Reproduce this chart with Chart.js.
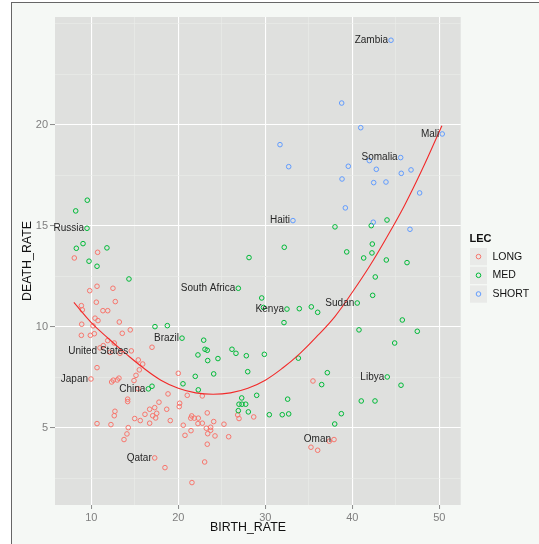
<!DOCTYPE html>
<html>
<head>
<meta charset="utf-8">
<script src="https://cdn.jsdelivr.net/npm/chart.js@4.4.1/dist/chart.umd.min.js"></script>
<style>
html, body { margin:0; padding:0; background:#fff; overflow:hidden; }
#moldura { position:absolute; left:11px; top:2px; width:600px; height:600px; border:1px solid #666; background:#f5f8f5; }
#grafico { position:absolute; left:0; top:0; }
</style>
</head>
<body>
<div id="moldura"></div>
<canvas id="grafico" width="539" height="544"></canvas>
<script>
// valores (BIRTH_RATE x DEATH_RATE)
var longBirth = [10.73, 8.05, 10.66, 9.82, 12.49, 8.86, 8.97, 10.58, 11.34, 11.89, 12.76, 10.43, 10.77, 13.22, 8.90, 10.20,
  14.48, 13.56, 8.86, 9.89, 10.35, 11.89, 11.38, 12.64, 11.00, 16.98, 14.60, 12.15, 13.30, 15.40, 15.91, 10.66, 15.52,
  15.14, 14.91, 13.18, 12.99, 12.34, 12.53, 9.97, 15.37, 20.00, 18.82, 20.16, 20.11, 21.03, 22.76, 17.78, 14.18, 14.18,
  12.72, 12.64, 16.71, 17.29, 16.17, 17.06, 17.52, 17.40, 18.67, 14.99, 15.63, 19.08, 16.71, 10.66, 12.26, 14.25, 14.10,
  13.76, 17.29, 18.47, 20.57, 20.77, 23.33, 21.54, 21.43, 21.84, 22.30, 22.26, 22.76, 21.46, 24.07, 25.25, 23.22, 23.72,
  23.72, 23.38, 24.22, 25.79, 23.33, 23.03, 21.57, 26.83, 26.98, 28.67, 35.48, 37.90, 37.36, 35.25, 36.02];
var longDeath = [13.68, 13.40, 12.00, 11.78, 11.90, 11.04, 10.83, 11.21, 10.79, 10.79, 11.24, 10.42, 10.30, 10.23, 10.12, 10.04,
  9.84, 9.67, 9.57, 9.57, 9.65, 9.31, 9.06, 9.19, 8.95, 8.98, 8.80, 8.73, 8.68, 8.35, 8.15, 7.97, 7.86,
  7.59, 7.33, 7.45, 7.36, 7.26, 7.35, 7.41, 6.93, 7.69, 6.67, 6.21, 6.04, 6.60, 6.57, 6.26, 6.41, 6.29,
  5.81, 5.59, 5.91, 5.99, 5.66, 5.59, 5.71, 5.48, 5.91, 5.45, 5.35, 5.35, 5.22, 5.20, 5.15, 5.00, 4.69,
  4.41, 3.50, 3.02, 5.12, 4.62, 5.73, 5.58, 5.47, 5.47, 5.47, 5.20, 5.22, 4.85, 5.30, 5.17, 4.97, 5.02,
  4.87, 4.70, 4.59, 4.55, 4.18, 3.30, 2.28, 5.63, 5.45, 5.53, 7.31, 4.41, 4.33, 4.03, 3.88];

var medBirth = [9.54, 8.21, 9.51, 9.05, 8.28, 11.80, 9.74, 10.66, 14.33, 17.32, 18.74, 20.43, 20.54, 16.98, 16.56,
  26.90, 29.59, 29.79, 32.49, 33.91, 35.29, 36.02, 32.15, 22.92, 23.07, 23.33, 26.17, 26.63, 22.26, 27.82, 29.89,
  24.56, 23.38, 33.80, 27.98, 24.07, 21.95, 22.30, 27.29, 29.01, 26.98, 27.32, 27.75, 26.90, 28.05, 30.46, 31.95,
  32.69, 32.57, 42.64, 42.34, 40.57, 45.75, 40.77, 47.47, 44.87, 37.13, 44.02, 36.48, 45.60, 41.03, 42.61, 38.74,
  37.98, 43.99, 38.01, 42.18, 32.18, 42.30, 39.36, 42.26, 41.31, 43.91, 46.29, 28.13];
var medDeath = [16.26, 15.73, 14.87, 14.11, 13.88, 13.90, 13.24, 12.99, 12.36, 10.00, 10.05, 9.43, 7.17, 7.05, 6.92,
  11.90, 11.42, 10.95, 10.87, 10.89, 10.98, 10.71, 10.20, 9.33, 8.88, 8.83, 8.88, 8.68, 8.60, 8.56, 8.63,
  8.42, 8.32, 8.44, 7.77, 7.66, 7.54, 6.87, 6.47, 6.60, 6.16, 6.16, 6.16, 5.84, 5.78, 5.64, 5.64,
  5.68, 6.41, 12.46, 11.55, 11.17, 10.33, 9.84, 9.77, 9.19, 7.72, 7.51, 7.13, 7.10, 6.32, 6.32, 5.69,
  5.18, 15.28, 14.94, 15.00, 13.93, 14.09, 13.70, 13.65, 13.40, 13.30, 13.17, 13.42];

var shortBirth = [44.45, 38.78, 40.97, 50.34, 31.69, 45.56, 41.96, 32.69, 39.54, 42.76, 45.63, 46.75, 38.82, 42.46,
  43.87, 47.74, 39.20, 33.18, 42.41, 46.63];
var shortDeath = [24.18, 21.07, 19.85, 19.54, 19.01, 18.37, 18.22, 17.92, 17.94, 17.79, 17.59, 17.76, 17.31, 17.13,
  17.16, 16.62, 15.88, 15.25, 15.17, 14.82];

// curva de ajuste
var fitBirth = [8, 10, 12, 14, 16, 18, 20, 22, 24, 26, 28, 30, 32, 34, 36, 38, 40, 42, 44, 46, 48, 50.3];
var fitDeath = [11.2, 10.2, 9.4, 8.65, 7.95, 7.35, 6.95, 6.72, 6.65, 6.72, 6.95, 7.35, 7.95, 8.68, 9.55, 10.5,
  11.7, 13.0, 14.45, 16.0, 17.75, 19.95];

// paises com nome
var labelNames = ['Zambia', 'Mali', 'Somalia', 'Haiti', 'Russia', 'South Africa', 'Kenya', 'Sudan', 'Brazil',
  'Libya', 'United States', 'Japan', 'China', 'Qatar', 'Oman'];
var labelBirth = [44.45, 50.34, 45.56, 33.18, 9.51, 26.90, 32.49, 40.57, 20.43, 44.02, 14.60, 9.97, 16.56, 17.29, 37.90];
var labelDeath = [24.18, 19.54, 18.37, 15.25, 14.87, 11.90, 10.87, 11.17, 9.43, 7.51, 8.80, 7.41, 6.92, 3.50, 4.41];

var grupos = ['LONG', 'MED', 'SHORT'];
var cores = ['#F8766D', '#00BA38', '#619CFF'];

var xTicks = [10, 20, 30, 40, 50];
var xMinor = [15, 25, 35, 45];
var yTicks = [5, 10, 15, 20];
var yMinor = [2.5, 7.5, 12.5, 17.5, 22.5, 25];

var fonte = '"Liberation Sans", Arial, sans-serif';

function _pontos(xs, ys) {
    return xs.map(function (v, i) { return {x: v, y: ys[i]}; });
}

function _eMaior(lista, c) {
    return c.tick && lista.indexOf(c.tick.value) >= 0;
}

function _eixo(majors, minors, vmin, vmax, tamanho, tickLen) {
    return {
        type: 'linear', min: vmin, max: vmax,
        afterBuildTicks: function (scale) {
            scale.ticks = majors.concat(minors).sort(function (a, b) { return a - b; })
                .map(function (v) { return {value: v}; });
        },
        afterFit: tamanho,
        border: {display: false},
        grid: {
            color: function (c) { return _eMaior(majors, c) ? '#ffffff' : '#ebecea'; },
            lineWidth: function (c) { return _eMaior(majors, c) ? 1.1 : 0.6; },
            tickColor: function (c) { return _eMaior(majors, c) ? '#8a8a8a' : 'rgba(0,0,0,0)'; },
            tickWidth: 1,
            tickLength: tickLen,
            drawTicks: true
        },
        ticks: {
            autoSkip: false, maxRotation: 0, padding: 2,
            color: '#7f7f7f', font: {size: 11, family: fonte},
            callback: function (v) { return majors.indexOf(v) >= 0 ? String(v) : ''; }
        }
    };
}

var fundoPainel = {
    id: 'fundoPainel',
    beforeDraw: function (chart) {
        var a = chart.chartArea, ctx = chart.ctx;
        ctx.save();
        ctx.fillStyle = '#dfe0de';
        ctx.fillRect(a.left, a.top, a.right - a.left, a.bottom - a.top);
        ctx.restore();
    }
};

var nomesPaises = {
    id: 'nomesPaises',
    afterDatasetsDraw: function (chart) {
        var ctx = chart.ctx, sx = chart.scales.x, sy = chart.scales.y;
        ctx.save();
        ctx.font = '10px ' + fonte;
        ctx.fillStyle = '#262626';
        ctx.textAlign = 'right';
        ctx.textBaseline = 'middle';
        labelNames.forEach(function (n, i) {
            ctx.fillText(n, sx.getPixelForValue(labelBirth[i]) - 3, sy.getPixelForValue(labelDeath[i]));
        });
        ctx.restore();
    }
};

var extras = {
    id: 'extras',
    afterDraw: function (chart) {
        var ctx = chart.ctx;
        ctx.save();
        // titulos dos eixos
        ctx.fillStyle = '#111';
        ctx.font = '12.4px ' + fonte;
        ctx.textAlign = 'center';
        ctx.textBaseline = 'middle';
        ctx.fillText('BIRTH_RATE', 248, 528);
        ctx.save();
        ctx.translate(28, 261);
        ctx.rotate(-Math.PI / 2);
        ctx.fillText('DEATH_RATE', 0, 0);
        ctx.restore();

        // legenda
        ctx.textAlign = 'left';
        ctx.font = 'bold 11px ' + fonte;
        ctx.fillText('LEC', 469.5, 239);
        ctx.font = '10.5px ' + fonte;
        grupos.forEach(function (g, i) {
            var topo = 248 + i * 18.7;
            ctx.fillStyle = '#e9eae8';
            ctx.fillRect(470, topo, 17, 17.3);
            ctx.beginPath();
            ctx.arc(478.5, topo + 8.6, 2.3, 0, Math.PI * 2);
            ctx.strokeStyle = cores[i];
            ctx.lineWidth = 1;
            ctx.stroke();
            ctx.fillStyle = '#111';
            ctx.fillText(g, 492.5, topo + 8.8);
        });
        ctx.restore();
    }
};

function _serie(nome, xs, ys, cor, ordem) {
    return {
        label: nome, data: _pontos(xs, ys), order: ordem,
        pointStyle: 'circle', pointRadius: 2.3, pointBorderWidth: 1,
        pointBackgroundColor: 'rgba(0,0,0,0)', pointBorderColor: cor,
        borderColor: cor, backgroundColor: 'rgba(0,0,0,0)', showLine: false
    };
}

var ctx = document.getElementById('grafico').getContext('2d');
var chart = new Chart(ctx, {
    type: 'scatter',
    data: {
        datasets: [
            {
                label: 'fit', type: 'line', data: _pontos(fitBirth, fitDeath), order: 0,
                borderColor: '#f22a2a', borderWidth: 1.1, pointRadius: 0, tension: 0.4,
                fill: false, showLine: true
            },
            _serie('SHORT', shortBirth, shortDeath, cores[2], 1),
            _serie('MED', medBirth, medDeath, cores[1], 2),
            _serie('LONG', longBirth, longDeath, cores[0], 3)
        ]
    },
    options: {
        responsive: false,
        animation: false,
        devicePixelRatio: 1,
        events: [],
        layout: {padding: {left: 0, top: 17, right: 78.3, bottom: 0}},
        plugins: {legend: {display: false}, tooltip: {enabled: false}},
        scales: {
            x: _eixo(xTicks, xMinor, 5.83, 52.46, function (s) { s.height = 39; }, 4),
            y: _eixo(yTicks, yMinor, 1.17, 25.33, function (s) { s.width = 55; }, 5)
        }
    },
    plugins: [fundoPainel, nomesPaises, extras]
});
</script>
</body>
</html>
